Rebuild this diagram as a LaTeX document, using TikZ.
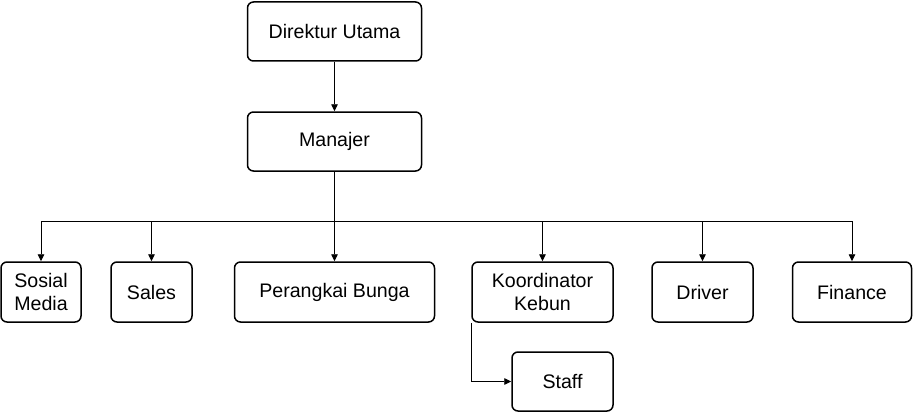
\documentclass[tikz,border=0pt]{standalone}
\usepackage{fontspec}
\setmainfont{Liberation Sans}
\usetikzlibrary{arrows.meta}
\begin{document}
\begin{tikzpicture}[x=1pt,y=-1pt,
  box/.style={draw,line width=1.5pt,rounded corners=6pt,align=center,inner sep=0pt,
    font=\fontsize{19.6}{23}\selectfont},
  conn/.style={line width=0.9pt,-{Triangle[length=7pt,width=6.5pt]}},
  plain/.style={line width=0.9pt}]
\useasboundingbox (0,0) rectangle (913,412);
\node[box,minimum width=174pt,minimum height=59pt] (dir) at (334.5,31.5) {Direktur Utama};
\node[box,minimum width=174pt,minimum height=59pt] (mgr) at (334.5,141.5) {Manajer};
\node[box,minimum width=80pt,minimum height=60pt] (sos) at (41,292) {Sosial\\Media};
\node[box,minimum width=81pt,minimum height=60pt] (sal) at (151.5,292) {Sales};
\node[box,minimum width=200pt,minimum height=60pt] (pb) at (334.5,292) {Perangkai Bunga};
\node[box,minimum width=141pt,minimum height=60pt] (kk) at (542.5,292) {Koordinator\\Kebun};
\node[box,minimum width=101pt,minimum height=60pt] (drv) at (702.5,292) {Driver};
\node[box,minimum width=119pt,minimum height=60pt] (fin) at (852,292) {Finance};
\node[box,minimum width=101pt,minimum height=59pt] (stf) at (562.5,381.5) {Staff};
\coordinate (hub) at (334.5,221);
\draw[conn] (dir) -- (mgr);
\draw[conn] (mgr) -- (pb);
\draw[conn] (hub) -| (sos.north);
\draw[conn] (hub) -| (sal.north);
\draw[conn] (hub) -| (kk.north);
\draw[conn] (hub) -| (drv.north);
\draw[conn] (hub) -| (fin.north);
\draw[conn] (kk.south west) |- (stf.west);
\end{tikzpicture}
\end{document}
